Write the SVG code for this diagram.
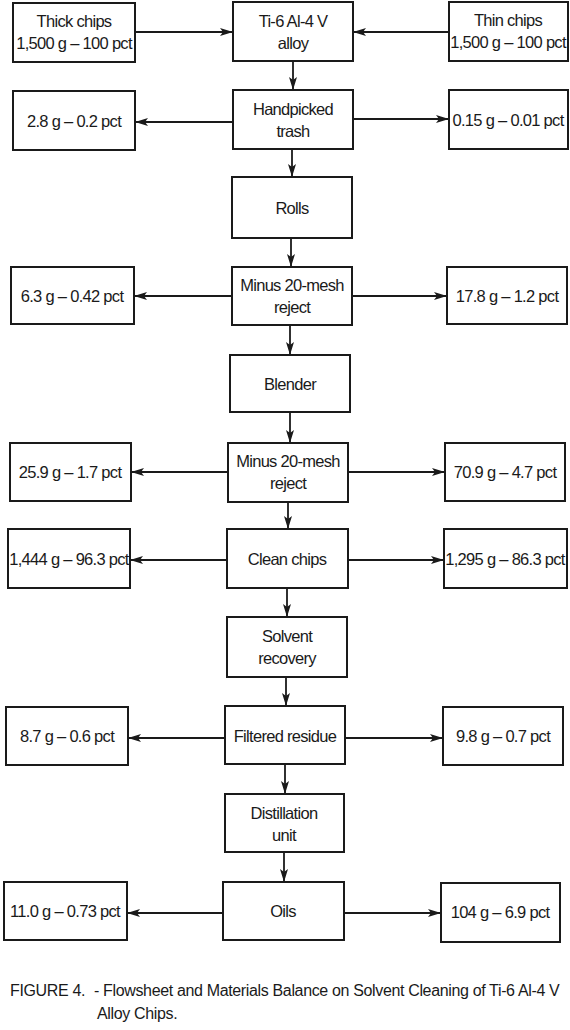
<svg xmlns="http://www.w3.org/2000/svg" width="570" height="1030" viewBox="0 0 570 1030">
<style>
.b{fill:#fff;stroke:#1a1a1a;stroke-width:2}
.t{font-family:"Liberation Sans",Arial,sans-serif;font-size:16.5px;letter-spacing:-0.7px;fill:#1a1a1a;text-anchor:middle}
.c{stroke:#1a1a1a;stroke-width:1.8;fill:none;marker-end:url(#ah)}
.cap{font-family:"Liberation Sans",Arial,sans-serif;font-size:16px;letter-spacing:-0.35px;fill:#1a1a1a}
</style>
<defs>
<marker id="ah" markerUnits="userSpaceOnUse" markerWidth="13" markerHeight="8" refX="13" refY="4" orient="auto">
<path d="M0,0 L13,4 L0,8 L3,4 z" fill="#1a1a1a"/>
</marker>
</defs>
<rect width="570" height="1030" fill="#fff"/>
<g id="connectors">
<line class="c" x1="135" y1="32" x2="233" y2="32"/>
<line class="c" x1="449" y1="32" x2="353" y2="32"/>
<line class="c" x1="293" y1="61" x2="293" y2="90"/>
<line class="c" x1="233" y1="122" x2="135" y2="122"/>
<line class="c" x1="353" y1="119" x2="449" y2="119"/>
<line class="c" x1="292" y1="149" x2="292" y2="177"/>
<line class="c" x1="291" y1="238" x2="291" y2="267"/>
<line class="c" x1="232" y1="296" x2="134" y2="296"/>
<line class="c" x1="352" y1="296" x2="447" y2="296"/>
<line class="c" x1="290" y1="325" x2="290" y2="355"/>
<line class="c" x1="290" y1="412" x2="290" y2="443"/>
<line class="c" x1="228" y1="472" x2="131" y2="472"/>
<line class="c" x1="348" y1="472" x2="445" y2="472"/>
<line class="c" x1="288" y1="502" x2="288" y2="529"/>
<line class="c" x1="227" y1="560" x2="130" y2="560"/>
<line class="c" x1="348" y1="560" x2="444" y2="560"/>
<line class="c" x1="287" y1="588" x2="287" y2="617"/>
<line class="c" x1="286" y1="677" x2="286" y2="706"/>
<line class="c" x1="225" y1="738" x2="128" y2="738"/>
<line class="c" x1="345" y1="738" x2="443" y2="738"/>
<line class="c" x1="285" y1="764" x2="285" y2="794"/>
<line class="c" x1="284" y1="852" x2="284" y2="882"/>
<line class="c" x1="223" y1="913" x2="127" y2="913"/>
<line class="c" x1="344" y1="913" x2="441" y2="913"/>
</g>
<g id="thick"><rect class="b" x="13" y="3" width="122" height="59"/><text class="t" x="74" y="27">Thick chips</text><text class="t" x="74" y="49">1,500 g – 100 pct</text></g>
<g id="alloy"><rect class="b" x="233" y="2" width="120" height="59"/><text class="t" x="293" y="27">Ti-6 Al-4 V</text><text class="t" x="293" y="49">alloy</text></g>
<g id="thin"><rect class="b" x="449" y="2" width="119" height="59"/><text class="t" x="508" y="26">Thin chips</text><text class="t" x="508" y="48">1,500 g – 100 pct</text></g>
<g id="hp-left"><rect class="b" x="13" y="91" width="122" height="59"/><text class="t" x="74" y="127">2.8 g – 0.2 pct</text></g>
<g id="handpicked"><rect class="b" x="233" y="90" width="120" height="59"/><text class="t" x="293" y="115">Handpicked</text><text class="t" x="293" y="137">trash</text></g>
<g id="hp-right"><rect class="b" x="449" y="90" width="119" height="59"/><text class="t" x="508" y="126">0.15 g – 0.01 pct</text></g>
<g id="rolls"><rect class="b" x="232" y="177" width="120" height="61"/><text class="t" x="292" y="214">Rolls</text></g>
<g id="m1-left"><rect class="b" x="11" y="267" width="123" height="57"/><text class="t" x="72" y="302">6.3 g – 0.42 pct</text></g>
<g id="mesh1"><rect class="b" x="232" y="267" width="120" height="58"/><text class="t" x="292" y="291">Minus 20-mesh</text><text class="t" x="292" y="313">reject</text></g>
<g id="m1-right"><rect class="b" x="447" y="267" width="120" height="57"/><text class="t" x="507" y="302">17.8 g – 1.2 pct</text></g>
<g id="blender"><rect class="b" x="230" y="355" width="120" height="57"/><text class="t" x="290" y="390">Blender</text></g>
<g id="m2-left"><rect class="b" x="10" y="443" width="121" height="58"/><text class="t" x="70" y="478">25.9 g – 1.7 pct</text></g>
<g id="mesh2"><rect class="b" x="228" y="443" width="120" height="59"/><text class="t" x="288" y="467">Minus 20-mesh</text><text class="t" x="288" y="489">reject</text></g>
<g id="m2-right"><rect class="b" x="445" y="443" width="120" height="58"/><text class="t" x="505" y="478">70.9 g – 4.7 pct</text></g>
<g id="c-left"><rect class="b" x="8" y="529" width="122" height="59"/><text class="t" x="69" y="565">1,444 g – 96.3 pct</text></g>
<g id="clean"><rect class="b" x="227" y="529" width="121" height="59"/><text class="t" x="287" y="565">Clean chips</text></g>
<g id="c-right"><rect class="b" x="444" y="529" width="123" height="59"/><text class="t" x="505" y="565">1,295 g – 86.3 pct</text></g>
<g id="solvent"><rect class="b" x="227" y="617" width="120" height="60"/><text class="t" x="287" y="642">Solvent</text><text class="t" x="287" y="664">recovery</text></g>
<g id="f-left"><rect class="b" x="6" y="707" width="122" height="58"/><text class="t" x="67" y="742">8.7 g – 0.6 pct</text></g>
<g id="filtered"><rect class="b" x="225" y="706" width="120" height="58"/><text class="t" x="285" y="742">Filtered residue</text></g>
<g id="f-right"><rect class="b" x="443" y="707" width="120" height="58"/><text class="t" x="503" y="742">9.8 g – 0.7 pct</text></g>
<g id="distill"><rect class="b" x="225" y="794" width="119" height="58"/><text class="t" x="284" y="819">Distillation</text><text class="t" x="284" y="841">unit</text></g>
<g id="o-left"><rect class="b" x="4" y="882" width="123" height="58"/><text class="t" x="65" y="917">11.0 g – 0.73 pct</text></g>
<g id="oils"><rect class="b" x="223" y="882" width="121" height="58"/><text class="t" x="283" y="917">Oils</text></g>
<g id="o-right"><rect class="b" x="441" y="883" width="119" height="59"/><text class="t" x="500" y="918">104 g – 6.9 pct</text></g>
<g id="caption">
<text class="cap" x="10" y="996">FIGURE 4.</text>
<text class="cap" x="94" y="996">- Flowsheet and Materials Balance on Solvent Cleaning of Ti-6 Al-4 V</text>
<text class="cap" x="97" y="1019">Alloy Chips.</text>
</g>
</svg>
